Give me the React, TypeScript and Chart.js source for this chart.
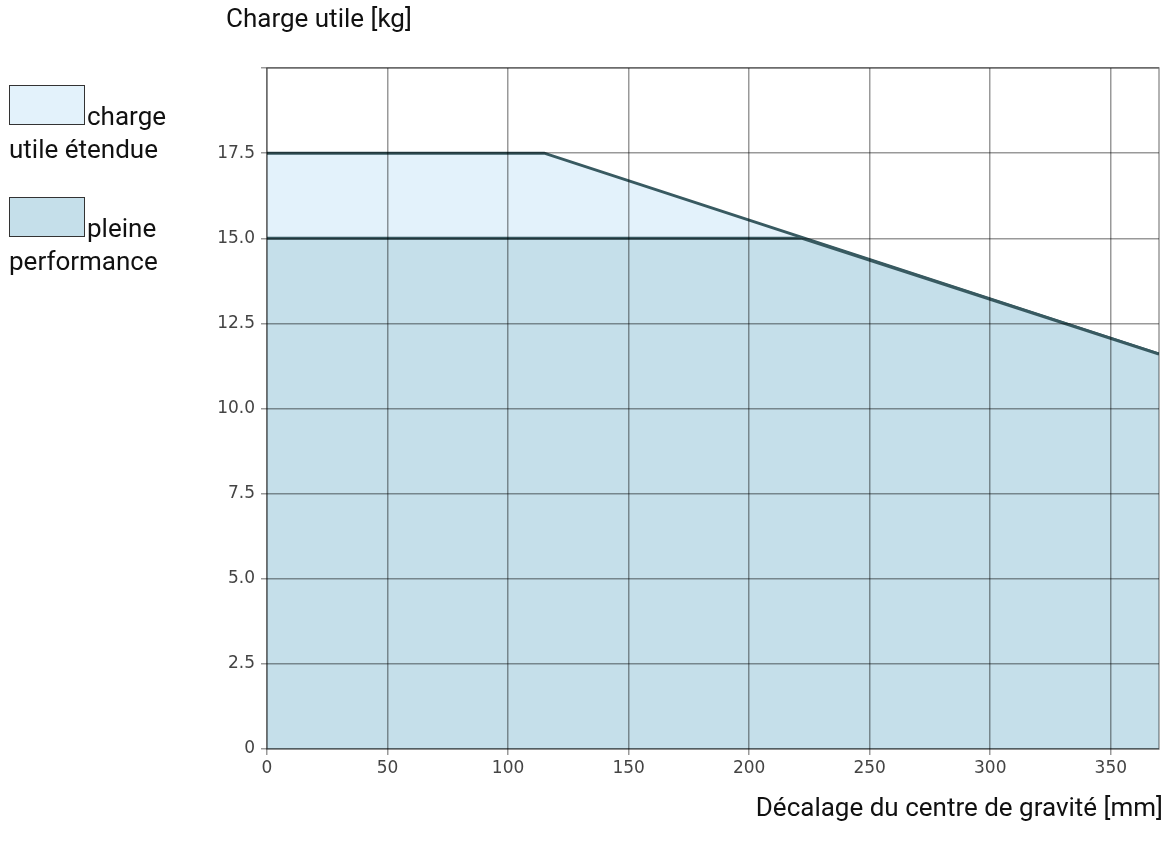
import React, { useEffect, useRef } from "react";
import { Chart, registerables } from "chart.js";

Chart.register(...registerables);

const extendedX = [0, 115, 370];
const extendedY = [17.5, 17.5, 11.6];
const fullX = [0, 222, 370];
const fullY = [15, 15, 11.6];
const xTicks = [0, 50, 100, 150, 200, 250, 300, 350];
const yTicks = [0, 2.5, 5, 7.5, 10, 12.5, 15, 17.5, 20];
const legendLabels = ["charge utile étendue", "pleine performance"];
const yTitle = "Charge utile [kg]";
const xTitle = "Décalage du centre de gravité [mm]";

const LINE = "#385a61";
const FILL_EXT = "#e3f2fb";
const FILL_FULL = "#c5dfea";
const GRID = "rgba(0,0,0,0.4)";

const framePlugin = {
  id: "frame",
  afterDraw(chart: any) {
    const { ctx, chartArea } = chart;
    ctx.save();
    ctx.strokeStyle = "rgba(0,0,0,0.4)";
    ctx.lineWidth = 1.5;
    ctx.strokeRect(chartArea.left, chartArea.top, chartArea.right - chartArea.left, chartArea.bottom - chartArea.top);
    ctx.restore();
  },
};

function ChartView() {
  const ref = useRef<HTMLCanvasElement | null>(null);
  useEffect(() => {
    if (!ref.current) return;
    const chart = new Chart(ref.current, {
      type: "line",
      data: {
        datasets: [
          {
            label: legendLabels[1],
            data: fullX.map((x, i) => ({ x, y: fullY[i] })),
            borderColor: LINE,
            borderWidth: 3,
            backgroundColor: FILL_FULL,
            fill: "origin",
            pointRadius: 0,
            tension: 0,
          },
          {
            label: legendLabels[0],
            data: extendedX.map((x, i) => ({ x, y: extendedY[i] })),
            borderColor: LINE,
            borderWidth: 3,
            backgroundColor: FILL_EXT,
            fill: "origin",
            pointRadius: 0,
            tension: 0,
          },
        ],
      },
      options: {
        animation: false,
        responsive: false,
        maintainAspectRatio: false,
        layout: { padding: { top: 68, right: 17, left: 0, bottom: 0 } },
        plugins: { legend: { display: false }, tooltip: { enabled: false } },
        scales: {
          x: {
            type: "linear",
            min: 0,
            max: 370,
            afterBuildTicks: (s: any) => {
              s.ticks = xTicks.map((v) => ({ value: v }));
            },
            afterFit: (s: any) => {
              s.height = 101;
            },
            grid: { color: GRID, lineWidth: 1.5, tickLength: 6, tickColor: GRID, z: 1 },
            border: { display: false },
            ticks: {
              padding: 3,
              color: "#444",
              font: { family: "DejaVu Sans", size: 17 },
              maxRotation: 0,
              callback: (v: any) => String(v),
            },
          },
          y: {
            type: "linear",
            min: 0,
            max: 20,
            afterBuildTicks: (s: any) => {
              s.ticks = yTicks.map((v) => ({ value: v }));
            },
            afterFit: (s: any) => {
              s.width = 267;
            },
            grid: { color: GRID, lineWidth: 1.5, tickLength: 6, tickColor: GRID, z: 1 },
            border: { display: false },
            ticks: {
              padding: 6,
              color: "#444",
              font: { family: "DejaVu Sans", size: 17 },
              callback: (v: any) => (v === 0 ? "0" : v === 20 ? "" : Number(v).toFixed(1)),
            },
          },
        },
      },
      plugins: [framePlugin],
    } as any);
    return () => chart.destroy();
  }, []);
  return (
    <canvas
      ref={ref}
      width={1176}
      height={850}
      style={{ position: "absolute", left: 0, top: 0, width: 1176, height: 850 }}
    />
  );
}

function LegendItem({ top, color, label }: { top: number; color: string; label: string }) {
  return (
    <div
      style={{
        position: "absolute",
        left: 9,
        top,
        width: 180,
        fontFamily: "Roboto",
        fontSize: 26,
        lineHeight: "33px",
        color: "#111",
      }}
    >
      <span
        style={{
          display: "inline-block",
          width: 74,
          height: 38,
          border: "1px solid #333",
          background: color,
          marginRight: 2,
        }}
      />
      {label}
    </div>
  );
}

export default function App() {
  return (
    <div style={{ position: "fixed", left: 0, top: 0, width: 1176, height: 850, background: "#fff" }}>
      <ChartView />
      <div
        style={{
          position: "absolute",
          left: 226,
          top: 3,
          fontFamily: "Roboto",
          fontSize: 26,
          color: "#111",
          whiteSpace: "nowrap",
        }}
      >
        {yTitle}
      </div>
      <div
        style={{
          position: "absolute",
          right: 13,
          top: 792,
          fontFamily: "Roboto",
          fontSize: 26,
          color: "#111",
          whiteSpace: "nowrap",
        }}
      >
        {xTitle}
      </div>
      <LegendItem top={85} color={FILL_EXT} label={legendLabels[0]} />
      <LegendItem top={197} color={FILL_FULL} label={legendLabels[1]} />
    </div>
  );
}
